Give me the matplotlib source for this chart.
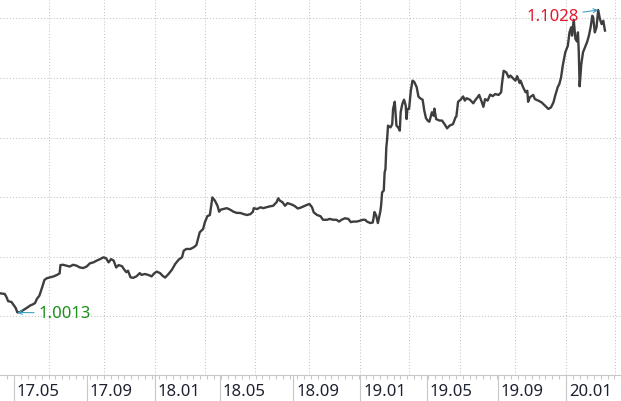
"""Fund NAV line, trading-day x axis (Chinese market calendar), 2017.04 - 2020.03."""

import numpy as np
import matplotlib
matplotlib.use("Agg")
import matplotlib.pyplot as plt
import matplotlib.transforms as mtransforms

start = "2017-04-07"
end = "2020-05-01"

# exchange holidays falling on weekdays
holidays = [
    "2017-05-01", "2017-05-29", "2017-05-30",
    "2017-10-02", "2017-10-03", "2017-10-04", "2017-10-05", "2017-10-06",
    "2018-01-01", "2018-02-15", "2018-02-16", "2018-02-19", "2018-02-20", "2018-02-21",
    "2018-04-05", "2018-04-06", "2018-04-30", "2018-05-01", "2018-06-18", "2018-09-24",
    "2018-10-01", "2018-10-02", "2018-10-03", "2018-10-04", "2018-10-05", "2018-12-31",
    "2019-01-01", "2019-02-04", "2019-02-05", "2019-02-06", "2019-02-07", "2019-02-08",
    "2019-04-05", "2019-05-01", "2019-05-02", "2019-05-03", "2019-06-07", "2019-09-13",
    "2019-10-01", "2019-10-02", "2019-10-03", "2019-10-04", "2019-10-07",
    "2020-01-01", "2020-01-24", "2020-01-27", "2020-01-28", "2020-01-29", "2020-01-30",
    "2020-01-31", "2020-04-06",
]

# trading-day number (counted from start) and unit NAV
day = [0, 5, 7, 9, 13, 16, 18, 20, 23, 27, 31, 35, 39, 41, 43, 46, 48, 50, 52, 55,
       59, 63, 67, 70, 71, 74, 78, 82, 86, 90, 94, 98, 102, 106, 110, 114, 118, 122, 125, 128,
       131, 134, 137, 140, 144, 146, 149, 151, 154, 157, 161, 165, 167, 171, 175, 179, 182, 185, 189, 192,
       195, 199, 203, 207, 211, 215, 217, 220, 225, 229, 232, 234, 236, 240, 242, 245, 248, 251, 254, 257,
       259, 261, 264, 268, 272, 276, 280, 284, 288, 292, 296, 299, 300, 304, 308, 311, 315, 319, 323, 327,
       329, 331, 334, 337, 340, 343, 346, 349, 352, 355, 359, 363, 366, 369, 371, 375, 379, 382, 387, 390,
       394, 398, 401, 404, 408, 412, 415, 418, 422, 426, 429, 432, 434, 438, 441, 443, 445, 447, 450, 451,
       452, 454, 455, 456, 457, 458, 459, 462, 464, 465, 467, 469, 471, 473, 474, 476, 478, 480, 481, 482,
       484, 486, 488, 490, 493, 495, 497, 500, 502, 504, 506, 508, 511, 513, 514, 516, 520, 523, 526, 529,
       532, 536, 539, 540, 542, 545, 548, 550, 552, 556, 560, 562, 565, 567, 570, 572, 574, 577, 580, 583,
       586, 590, 593, 594, 596, 599, 602, 604, 607, 610, 612, 615, 616, 619, 622, 624, 625, 627, 631, 633,
       637, 641, 645, 649, 652, 655, 657, 660, 662, 664, 666, 669, 672, 674, 676, 677, 679, 680, 681, 683,
       684, 685, 686, 688, 690, 693, 695, 697, 699, 701, 702, 704, 706, 708, 710, 712, 714, 716]

nav = [1.0077, 1.0075, 1.0065, 1.0051, 1.0048, 1.0036, 1.0028, 1.0013, 1.0014, 1.0021,
       1.0028, 1.0036, 1.0041, 1.0045, 1.0058, 1.0069, 1.0086, 1.0103, 1.0122, 1.0128,
       1.0131, 1.0134, 1.0139, 1.0144, 1.0172, 1.0173, 1.0170, 1.0167, 1.0173, 1.0170,
       1.0164, 1.0162, 1.0167, 1.0178, 1.0181, 1.0187, 1.0192, 1.0198, 1.0195, 1.0181,
       1.0192, 1.0187, 1.0164, 1.0172, 1.0168, 1.0159, 1.0148, 1.0153, 1.0131, 1.0129,
       1.0134, 1.0145, 1.0139, 1.0142, 1.0139, 1.0134, 1.0144, 1.0150, 1.0145, 1.0136,
       1.0130, 1.0142, 1.0156, 1.0176, 1.0190, 1.0198, 1.0220, 1.0226, 1.0226, 1.0232,
       1.0239, 1.0260, 1.0282, 1.0293, 1.0315, 1.0336, 1.0340, 1.0399, 1.0388, 1.0371,
       1.0351, 1.0358, 1.0360, 1.0363, 1.0358, 1.0351, 1.0347, 1.0347, 1.0343, 1.0340,
       1.0343, 1.0351, 1.0363, 1.0360, 1.0366, 1.0363, 1.0366, 1.0369, 1.0371, 1.0383,
       1.0396, 1.0388, 1.0383, 1.0371, 1.0380, 1.0377, 1.0374, 1.0369, 1.0362, 1.0364,
       1.0369, 1.0374, 1.0377, 1.0366, 1.0349, 1.0340, 1.0336, 1.0324, 1.0324, 1.0327,
       1.0324, 1.0324, 1.0318, 1.0324, 1.0329, 1.0327, 1.0316, 1.0318, 1.0318, 1.0321,
       1.0324, 1.0324, 1.0318, 1.0313, 1.0315, 1.0350, 1.0338, 1.0313, 1.0353, 1.0377,
       1.0416, 1.0422, 1.0483, 1.0494, 1.0567, 1.0595, 1.0640, 1.0634, 1.0645, 1.0696,
       1.0720, 1.0640, 1.0634, 1.0623, 1.0685, 1.0713, 1.0727, 1.0707, 1.0662, 1.0696,
       1.0696, 1.0757, 1.0791, 1.0787, 1.0769, 1.0738, 1.0732, 1.0727, 1.0690, 1.0665,
       1.0657, 1.0653, 1.0685, 1.0673, 1.0697, 1.0662, 1.0657, 1.0657, 1.0645, 1.0631,
       1.0640, 1.0645, 1.0668, 1.0671, 1.0720, 1.0727, 1.0738, 1.0724, 1.0732, 1.0727,
       1.0715, 1.0724, 1.0735, 1.0743, 1.0720, 1.0703, 1.0729, 1.0724, 1.0744, 1.0739,
       1.0746, 1.0743, 1.0752, 1.0780, 1.0824, 1.0819, 1.0802, 1.0808, 1.0799, 1.0791,
       1.0806, 1.0783, 1.0791, 1.0769, 1.0752, 1.0757, 1.0720, 1.0735, 1.0743, 1.0729,
       1.0724, 1.0718, 1.0707, 1.0696, 1.0701, 1.0718, 1.0740, 1.0769, 1.0780, 1.0802,
       1.0841, 1.0886, 1.0908, 1.0953, 1.0970, 1.0942, 1.0995, 1.0964, 1.0931, 1.0922,
       1.0953, 1.0886, 1.0772, 1.0847, 1.0886, 1.0908, 1.0922, 1.0942, 1.0970, 1.1009,
       1.1004, 1.0953, 1.0970, 1.1028, 1.0998, 1.0981, 1.0992, 1.0959]

grid_levels = [1.00, 1.02, 1.04, 1.06, 1.08, 1.10]
grid_months = [1, 4, 7, 10]      # dotted verticals
label_months = [1, 5, 9]         # labelled ticks

# trading calendar -> index of first trading day of every month
cal = np.arange(np.datetime64(start), np.datetime64(end))
tdays = cal[np.is_busday(cal, holidays=holidays)]
months = tdays.astype("datetime64[M]")
first = np.flatnonzero(months[1:] != months[:-1]) + 1
mon_no = months[first].astype(int) % 12 + 1

xmin, xmax = -0.6, 735
grid_x = first[np.isin(mon_no, grid_months) & (first < xmax)]
major_x = first[np.isin(mon_no, label_months) & (first < xmax)]
major_lab = [str(tdays[i])[2:7].replace("-", ".") for i in major_x]

# ten sub-ticks between labelled ticks
step = np.diff(major_x).mean() / 10
minor_x = np.arange(major_x[0] - step, xmax, step)

fig = plt.figure(figsize=(6.21, 4.02), dpi=100, facecolor="white")
ax = fig.add_axes([0, 26 / 402, 1, 376 / 402])

grid_kw = dict(color="#c4c4c4", lw=0.75, ls=(0, (1, 2)), zorder=0)
for g in grid_levels:
    ax.axhline(g, **grid_kw)
for g in grid_x:
    ax.axvline(g, **grid_kw)

ax.plot(day, nav, color="#3e3e3e", lw=1.7, zorder=3)

for s in ("left", "right", "top"):
    ax.spines[s].set_visible(False)
ax.spines["bottom"].set_color("#c8c8c8")
ax.spines["bottom"].set_linewidth(0.8)
ax.set_yticks([])
ax.set_xticks(major_x)
ax.set_xticklabels([])
ax.set_xticks(minor_x, minor=True)
ax.tick_params(axis="x", which="major", length=19, width=0.8, color="#c8c8c8")
ax.tick_params(axis="x", which="minor", length=3, width=0.8, color="#c8c8c8")

# limits last: set_xticks would widen them otherwise
ax.set_xlim(xmin, xmax)
ax.set_ylim(0.9803, 1.1065)

# date labels sit right of their tick, inside the long tick
off = mtransforms.ScaledTranslation(3 / 100, -20 / 100, fig.dpi_scale_trans)
trans = mtransforms.blended_transform_factory(ax.transData, ax.transAxes) + off
for x, lab in zip(major_x, major_lab):
    ax.text(x, 0, lab, transform=trans, ha="left", va="baseline",
            fontsize=12, family="Noto Sans", color="#1e2230")

arrow = dict(arrowstyle="->", color="#3a9cc0", lw=0.75, shrinkA=1, shrinkB=0,
             mutation_scale=7)
imax = int(np.argmax(nav))
imin = int(np.argmin(nav))
ax.annotate(f"{nav[imax]:.4f}", xy=(day[imax], nav[imax]), xytext=(-14, -4.5),
            textcoords="offset points", ha="right", va="center", fontsize=12,
            family="Noto Sans", color="#e3162b", arrowprops=arrow, zorder=4)
ax.annotate(f"{nav[imin]:.4f}", xy=(day[imin], nav[imin]), xytext=(15, -0.5),
            textcoords="offset points", ha="left", va="center", fontsize=12,
            family="Noto Sans", color="#1b8f1b", arrowprops=arrow, zorder=4)

fig.savefig("out.png", dpi=100, facecolor="white")
